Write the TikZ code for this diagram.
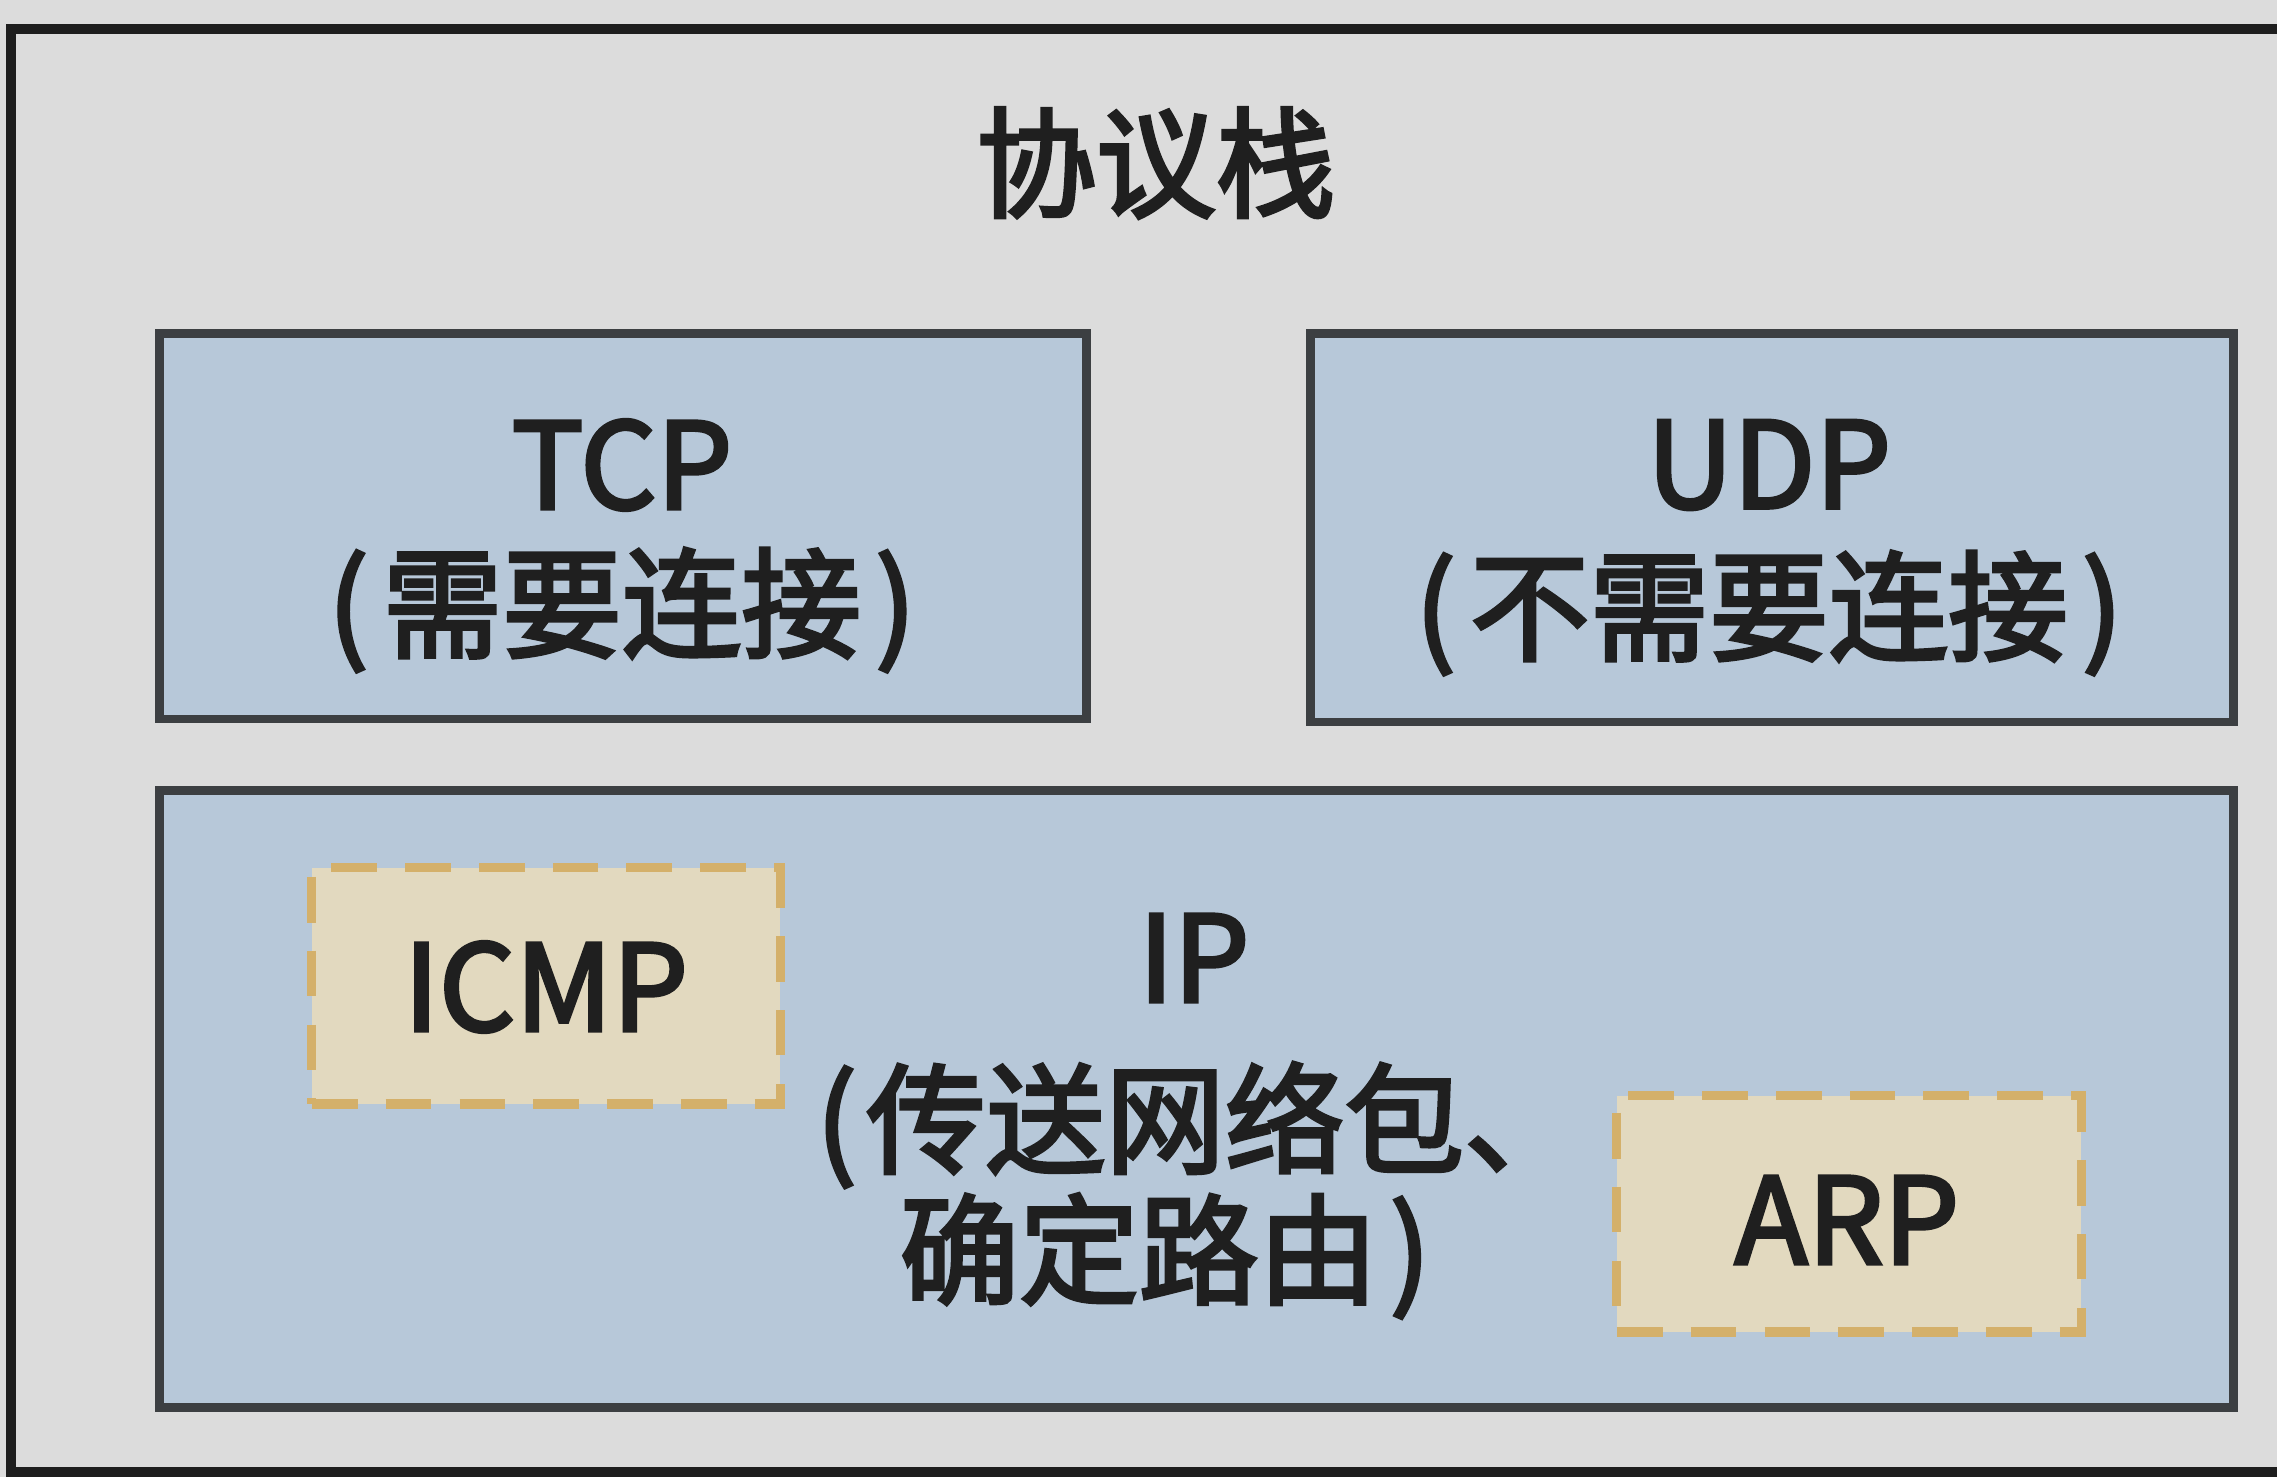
\documentclass[tikz,border=0pt]{standalone}
\usepackage{fontspec}
\setmainfont[FakeBold=3]{Noto Sans CJK SC}
\definecolor{bg}{HTML}{DCDCDC}
\definecolor{boxfill}{HTML}{B7C8D9}
\definecolor{boxline}{HTML}{3C3F42}
\definecolor{frameline}{HTML}{1E1E1E}
\definecolor{subfill}{HTML}{E2D9BF}
\definecolor{subline}{HTML}{D4B06A}
\tikzset{
  layer/.style={draw=boxline,fill=boxfill,line width=2.5pt,inner sep=0pt},
  sub/.style={draw=subline,fill=subfill,line width=2.6pt,dash pattern=on 13pt off 8pt,inner sep=0pt},
  lbl/.style={inner sep=0pt,font=\fontsize{34}{40}\selectfont,text=black!88},
  frame/.style={draw=frameline,line width=2.8pt}
}
\begin{document}
\begin{tikzpicture}[x=0.01cm,y=-0.01cm]
\fill[bg] (0,0) rectangle (2277,1477);
\useasboundingbox (0,0) rectangle (2277,1477);
\clip (0,0) rectangle (2277,1477);
\draw[frame] (2400,29) -- (11,29) -- (11,1472) -- (2400,1472);
\node[lbl] (title) at (1156,163) {协议栈};
\node[layer,minimum width=9.26cm,minimum height=3.85cm] (tcp) at (623,526.5) {};
\node[layer,minimum width=9.22cm,minimum height=3.88cm] (udp) at (1772,528) {};
\node[layer,minimum width=20.73cm,minimum height=6.16cm] (ip) at (1196.5,1099) {};
\node[sub,minimum width=4.68cm,minimum height=2.36cm] (icmp) at (546,986) {};
\node[sub,minimum width=4.64cm,minimum height=2.36cm] (arp) at (1849,1214) {};
\node[lbl] (tcp1) at (622,465) {TCP};
\node[lbl] (tcp2) at (622,610) {(\hspace{0.12em}需要连接\hspace{0.12em})};
\node[lbl] (udp1) at (1769,465) {UDP};
\node[lbl] (udp2) at (1769,613) {(\hspace{0.12em}不需要连接\hspace{0.12em})};
\node[lbl] (ip1) at (1194,958) {IP};
\node[lbl] (ip2) at (1200,1125) {(\hspace{0.08em}传送网络包、};
\node[lbl] (ip3) at (1165,1256) {确定路由\hspace{0.1em})};
\node[lbl] (icmpt) at (546,987) {ICMP};
\node[lbl] (arpt) at (1847,1220) {ARP};
\end{tikzpicture}
\end{document}
